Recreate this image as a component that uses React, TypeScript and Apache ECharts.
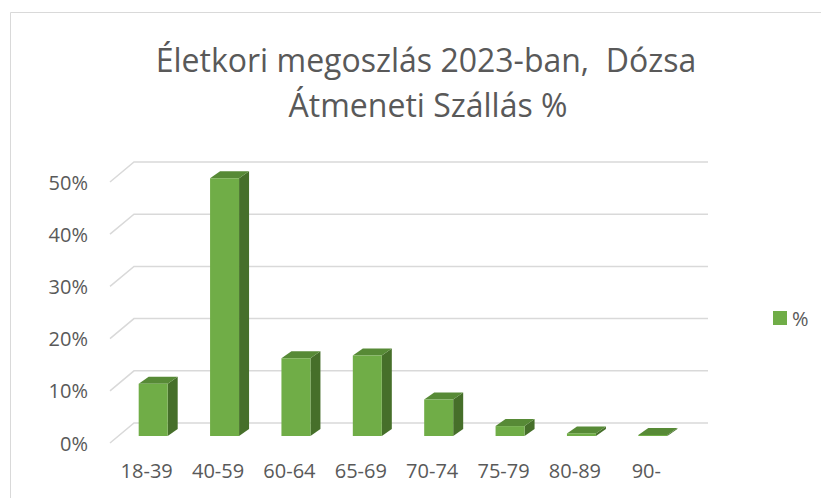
import React, { useEffect, useRef } from "react";
import * as echarts from "echarts";

const categories = ["18-39", "40-59", "60-64", "65-69", "70-74", "75-79", "80-89", "90-"];
const values = [0.1, 0.494, 0.149, 0.154, 0.07, 0.019, 0.005, 0.002];
const yTicks = [0, 0.1, 0.2, 0.3, 0.4, 0.5];
const titleLine1 = "Életkori megoszlás 2023-ban,  Dózsa";
const titleLine2 = "Átmeneti Szállás %";
const seriesName = "%";

const FRONT = "#70AD47";
const TOP = "#578A36";
const SIDE = "#466F2A";
const GRID = "#d9d9d9";
const TEXT = "#595959";
const FONT = "'Open Sans', 'Noto Sans', sans-serif";

export default function App() {
  const ref = useRef<HTMLDivElement>(null);
  useEffect(() => {
    if (!ref.current) return;
    const chart = echarts.init(ref.current, undefined, { renderer: "svg" });
    const option: any = {
      animation: false,
      backgroundColor: "#ffffff",
      textStyle: { fontFamily: FONT },
      graphic: [
        {
          type: "polyline",
          shape: { points: [[10.5, 498], [10.5, 12.5], [821, 12.5]] },
          style: { stroke: GRID, lineWidth: 1, fill: "none" },
          silent: true,
        },
        {
          type: "text",
          x: 426,
          y: 59,
          style: {
            text: titleLine1,
            fontSize: 32,
            fontFamily: FONT,
            fill: TEXT,
            align: "center",
            verticalAlign: "middle",
          },
        },
        {
          type: "text",
          x: 428,
          y: 104,
          style: {
            text: titleLine2,
            fontSize: 32,
            fontFamily: FONT,
            fill: TEXT,
            align: "center",
            verticalAlign: "middle",
          },
        },
      ],
      legend: {
        data: [seriesName],
        left: 768,
        top: 303,
        itemWidth: 14,
        itemHeight: 14,
        icon: "rect",
        textStyle: { fontSize: 20, color: TEXT, fontFamily: FONT },
      },
      grid: { left: 111, right: 139, top: 182, bottom: 55 },
      xAxis: {
        type: "category",
        data: categories,
        axisLine: { show: false },
        axisTick: { show: false },
        axisLabel: { fontSize: 20, color: TEXT, fontFamily: FONT, margin: 17, interval: 0 },
      },
      yAxis: {
        type: "value",
        min: 0,
        max: 0.5,
        interval: 0.1,
        splitLine: { show: false },
        axisLine: { show: false },
        axisTick: { show: false },
        axisLabel: {
          fontSize: 20,
          color: TEXT,
          fontFamily: FONT,
          margin: 23,
          formatter: (v: number) => Math.round(v * 100) + "%",
        },
      },
      series: [
        {
          type: "custom",
          name: "walls",
          z: 1,
          silent: true,
          data: yTicks.map((t) => [0, t]),
          renderItem: (params: any, api: any) => {
            const p = api.coord([0, api.value(1)]);
            const cs = params.coordSys;
            const y = p[1];
            return {
              type: "polyline",
              shape: {
                points: [
                  [cs.x - 1, y],
                  [cs.x + 23, y - 20],
                  [cs.x + cs.width + 26, y - 20],
                ],
              },
              style: { stroke: GRID, lineWidth: 1.5, fill: "none" },
            };
          },
        },
        {
          type: "custom",
          name: seriesName,
          z: 2,
          itemStyle: { color: FRONT },
          data: values.map((v, i) => [i, v]),
          encode: { x: 0, y: 1 },
          renderItem: (params: any, api: any) => {
            const i = api.value(0);
            const v = api.value(1);
            const base = api.coord([i, 0]);
            const top = api.coord([i, v]);
            const dx = 6.5, dy = -7, hw = 14.5, ox = 10, oy = -7;
            const xl = base[0] + dx - hw;
            const xr = base[0] + dx + hw;
            const yb = base[1] + dy;
            const yt = top[1] + dy;
            return {
              type: "group",
              children: [
                {
                  type: "polygon",
                  shape: { points: [[xr, yt], [xr, yb], [xr + ox, yb + oy], [xr + ox, yt + oy]] },
                  style: { fill: SIDE },
                },
                {
                  type: "polygon",
                  shape: { points: [[xl, yt], [xr, yt], [xr + ox, yt + oy], [xl + ox, yt + oy]] },
                  style: { fill: TOP },
                },
                {
                  type: "rect",
                  shape: { x: xl, y: yt, width: xr - xl, height: Math.max(0, yb - yt) },
                  style: { fill: FRONT },
                },
              ],
            };
          },
        },
      ],
    };
    chart.setOption(option);
    return () => chart.dispose();
  }, []);
  return (
    <div
      ref={ref}
      style={{ position: "fixed", left: 0, top: 0, width: 821, height: 498 }}
    />
  );
}
